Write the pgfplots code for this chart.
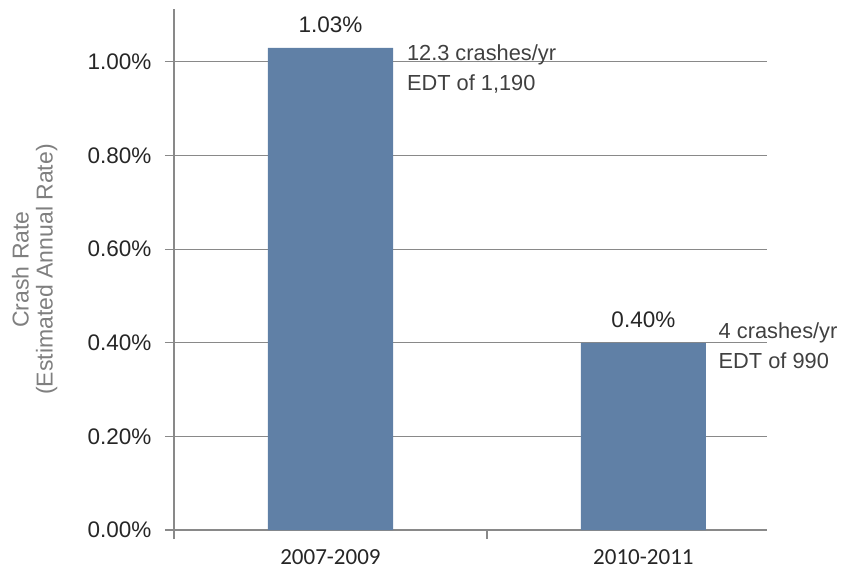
\documentclass[border=0pt]{standalone}
\usepackage{pgfplots}
\pgfplotsset{compat=1.18}
\usepackage{fontspec}
\setmainfont{Liberation Sans}
\newfontfamily\calibri{Carlito}
\definecolor{barblue}{HTML}{6080A6}
\definecolor{axgray}{HTML}{898989}
\definecolor{txt}{HTML}{262626}
\definecolor{anntxt}{HTML}{404040}
\definecolor{labgray}{HTML}{7F7F7F}
\begin{document}
\begin{tikzpicture}
\begin{axis}[
  name=ax,
  scale only axis, width=593bp, height=521bp,
  xmin=-0.5, xmax=1.395, ymin=0, ymax=1.113,
  clip=false,
  axis x line=bottom, axis y line=left,
  axis line style={draw=axgray, line width=1.2bp, -},
  xtick={-0.5,0.5}, xticklabels={},
  extra x ticks={0,1}, extra x tick labels={2007-2009,2010-2011},
  extra x tick style={major tick length=0pt, grid=none,
    xticklabel style={font=\calibri\fontsize{23bp}{27bp}\selectfont, text=txt, yshift=-16bp}},
  ytick={0,0.2,0.4,0.6,0.8,1.0},
  ymajorgrids, grid style={draw=axgray, line width=1.2bp},
  tick style={draw=axgray, line width=1.2bp}, tick align=outside, major tick length=9bp,
  /pgf/number format/assume math mode=true,
  yticklabel={\pgfmathprintnumber[fixed,fixed zerofill,precision=2]{\tick}\%},
  yticklabel style={font=\fontsize{22.5bp}{27bp}\selectfont, text=txt, xshift=-10bp},
  ylabel={Crash Rate\\(Estimated Annual Rate)},
  ylabel style={align=center, font=\fontsize{23bp}{24bp}\selectfont, text=labgray,
    at={(axis description cs:-0.235,0.5)}, anchor=center},
]
\addplot[ybar, bar width=0.4, fill=barblue, draw=none,
  nodes near coords={\pgfmathprintnumber[fixed,fixed zerofill,precision=2]{\pgfplotspointmeta}\%},
  nodes near coords style={font=\fontsize{22.5bp}{27bp}\selectfont, text=txt, yshift=12bp}]
  coordinates {(0,1.03) (1,0.40)};
\node[anchor=west, align=left, font=\fontsize{21.8bp}{30bp}\selectfont, text=anntxt, inner sep=0pt]
  at (axis cs:0.244,0.985) {12.3 crashes/yr\\EDT of 1,190};
\node[anchor=west, align=left, font=\fontsize{21.8bp}{30bp}\selectfont, text=anntxt, inner sep=0pt]
  at (axis cs:1.24,0.393) {4 crashes/yr\\EDT of 990};
\end{axis}
\pgfresetboundingbox
\path (ax.south west) ++(-174bp,-48bp) rectangle ++(848bp,578bp);
\end{tikzpicture}
\end{document}
